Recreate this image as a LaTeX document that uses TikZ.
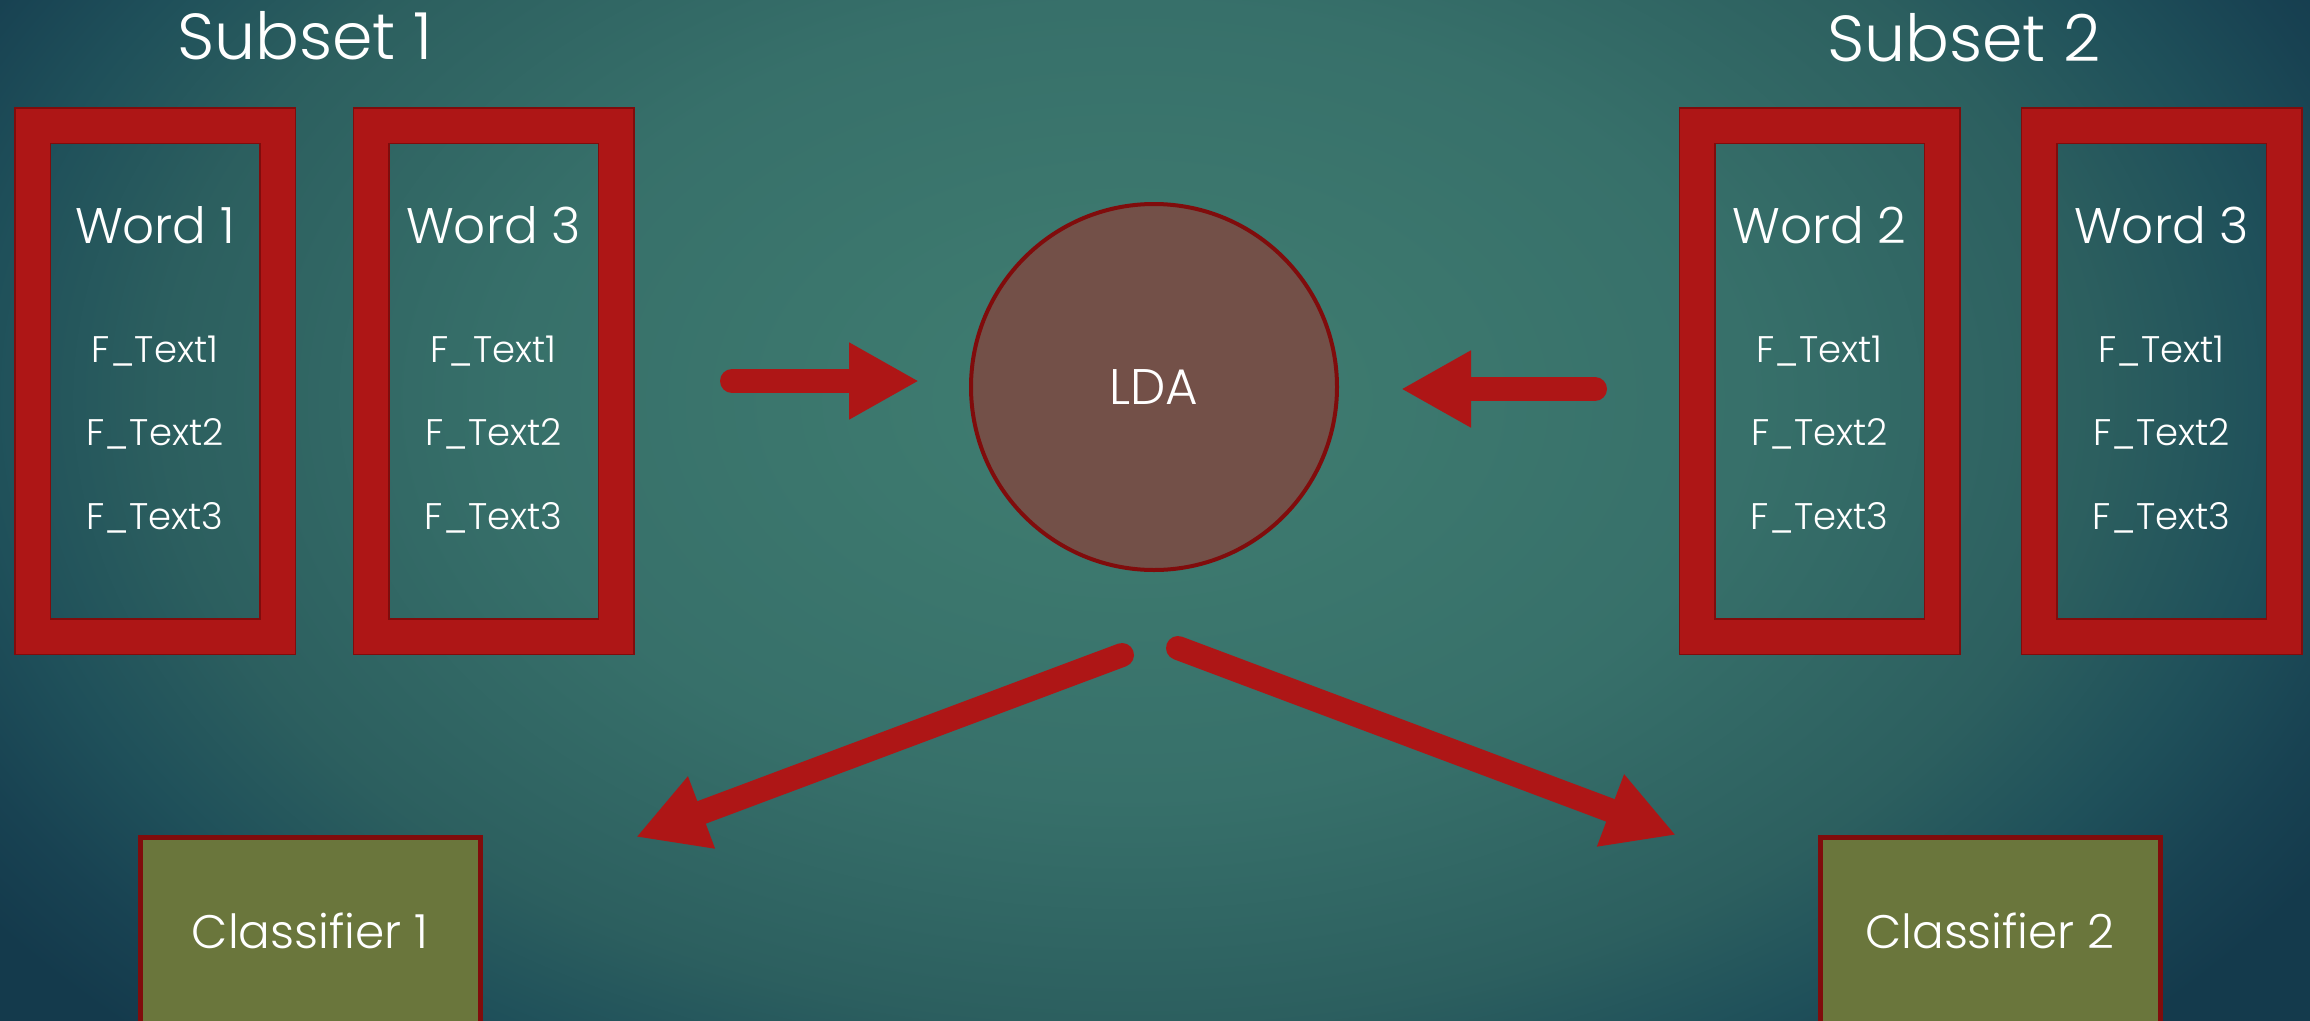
\documentclass[tikz,border=0pt]{standalone}
\usepackage{fontspec}
\setmainfont{Poppins}[UprightFont=* Light]
\usetikzlibrary{arrows.meta}
\definecolor{bgA}{RGB}{64,126,113}
\definecolor{bgB}{RGB}{55,112,106}
\definecolor{bgC}{RGB}{44,95,95}
\definecolor{bgD}{RGB}{31,80,90}
\definecolor{bgE}{RGB}{24,66,82}
\definecolor{bgF}{RGB}{20,58,76}
\definecolor{framered}{RGB}{174,22,22}
\definecolor{framedark}{RGB}{128,12,12}
\definecolor{ldafill}{RGB}{115,80,72}
\definecolor{clsfill}{RGB}{106,118,60}
\pgfdeclareradialshading{bgshade}{\pgfpoint{0bp}{0bp}}{color(0bp)=(bgA); color(11bp)=(bgB); color(17.25bp)=(bgC); color(20.5bp)=(bgD); color(23bp)=(bgE); color(25bp)=(bgF); color(50bp)=(bgF)}
\tikzset{
  wordbox/.style={rectangle, draw=framedark, line width=1.5pt, double=framered, double distance=34pt, minimum width=245pt, minimum height=511pt, inner sep=0pt},
  title/.style={text=white, font=\fontsize{65}{70}\selectfont, anchor=base, inner sep=0pt},
  wordlbl/.style={text=white, font=\fontsize{50}{55}\selectfont, anchor=base, inner sep=0pt},
  feat/.style={text=white, font=\fontsize{37}{40}\selectfont, anchor=base, inner sep=0pt},
  ldanode/.style={circle, draw=framedark, line width=4pt, fill=ldafill, minimum size=366pt, inner sep=0pt, text=white, font=\fontsize{50}{55}\selectfont},
  clsbox/.style={rectangle, draw=framedark, line width=5pt, fill=clsfill, minimum width=340pt, minimum height=188pt, inner sep=0pt, text=white, font=\fontsize{47}{52}\selectfont},
  bigarrow/.style={draw=framered, line width=24pt, line cap=round, -{Triangle[length=70pt,width=72pt]}}
}
\begin{document}
\begin{tikzpicture}[x=1pt,y=-1pt]
\useasboundingbox (0,0) rectangle (2310,1020);
\clip (0,0) rectangle (2310,1020);
\shade[shading=bgshade] (-270,-500) rectangle (2530,1300);
% titles
\node[title] (s1) at (305,59) {Subset 1};
\node[title] (s2) at (1964,61) {Subset 2};
% word boxes
\node[wordbox] (b1) at (155,381) {};
\node[wordbox] (b2) at (493.5,381) {};
\node[wordbox] (b3) at (1819.5,381) {};
\node[wordbox] (b4) at (2161.5,381) {};
\foreach \n/\x/\w in {b1/155/Word 1, b2/493.5/Word 3, b3/1819.5/Word 2, b4/2161.5/Word 3}{
  \node[wordlbl] (\n w) at (\x,243) {\w};
  \node[feat] (\n f1) at (\x,362) {F\_Text1};
  \node[feat] (\n f2) at (\x,445) {F\_Text2};
  \node[feat] (\n f3) at (\x,529) {F\_Text3};
}
% LDA
\node[ldanode] (lda) at (1154,387) {LDA};
% classifiers
\node[clsbox] (c1) at (310,931) {Classifier 1};
\node[clsbox] (c2) at (1990,931) {Classifier 2};
% arrow end points
\coordinate (a1s) at (732,381);
\coordinate (a1e) at (919,381);
\coordinate (a2s) at (1595,389);
\coordinate (a2e) at (1401,389);
\coordinate (a3s) at (1122,655);
\coordinate (a3e) at (636,837);
\coordinate (a4s) at (1178,648);
\coordinate (a4e) at (1676,835);
\draw[bigarrow] (a1s) -- (a1e);
\draw[bigarrow] (a2s) -- (a2e);
\draw[bigarrow] (a3s) -- (a3e);
\draw[bigarrow] (a4s) -- (a4e);
\end{tikzpicture}
\end{document}
